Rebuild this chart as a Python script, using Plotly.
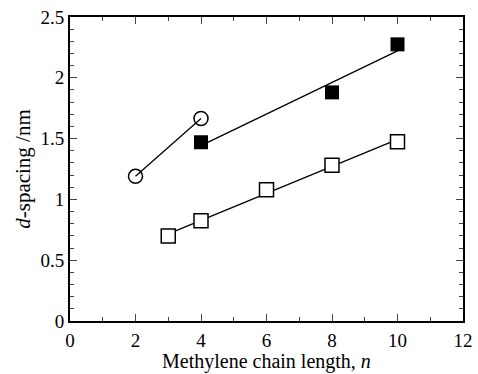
import numpy as np
import plotly.graph_objects as go

# Data
circ_x = [2, 4]
circ_y = [1.19, 1.665]

fsq_x = [4, 8, 10]
fsq_y = [1.47, 1.88, 2.275]

osq_x = [3, 4, 6, 8, 10]
osq_y = [0.70, 0.825, 1.08, 1.28, 1.475]

x_ticks = [0, 2, 4, 6, 8, 10, 12]
y_ticks = [0, 0.5, 1, 1.5, 2, 2.5]
y_labels = ["0", "0.5", "1", "1.5", "2", "2.5"]

fig = go.Figure()

# connecting / fit lines
fig.add_trace(go.Scatter(x=circ_x, y=circ_y, mode="lines",
                         line=dict(color="black", width=1.3), showlegend=False))
for xs, ys in [(fsq_x, fsq_y), (osq_x, osq_y)]:
    p = np.polyfit(xs, ys, 1)
    xe = [min(xs), max(xs)]
    fig.add_trace(go.Scatter(x=xe, y=list(np.polyval(p, xe)), mode="lines",
                             line=dict(color="black", width=1.3), showlegend=False))

fig.add_trace(go.Scatter(x=circ_x, y=circ_y, mode="markers",
                         marker=dict(symbol="circle-open", size=14, color="black",
                                     line=dict(width=1.5)), showlegend=False))
fig.add_trace(go.Scatter(x=fsq_x, y=fsq_y, mode="markers",
                         marker=dict(symbol="square", size=14, color="black",
                                     line=dict(width=0)), showlegend=False))
fig.add_trace(go.Scatter(x=osq_x, y=osq_y, mode="markers",
                         marker=dict(symbol="square", size=14, color="white",
                                     line=dict(width=1.5, color="black")), showlegend=False))

tick_font = dict(family="Liberation Serif, serif", size=19, color="black")
title_font = dict(family="Liberation Serif, serif", size=20, color="black")

fig.update_layout(
    width=478, height=374,
    margin=dict(l=70, r=15, t=17, b=53),
    plot_bgcolor="white", paper_bgcolor="white",
    font=tick_font,
    xaxis=dict(range=[0, 12], tickvals=x_ticks, ticks="inside", ticklen=7, tickwidth=1.3,
               tickfont=tick_font, ticklabelstandoff=1, automargin=False,
               showline=True, linewidth=2, linecolor="black", mirror="ticks",
               showgrid=False, zeroline=False,
               minor=dict(dtick=1, ticks="inside", ticklen=4, tickwidth=1.3, showgrid=False)),
    yaxis=dict(range=[0, 2.5], tickvals=y_ticks, ticktext=y_labels, automargin=False,
               ticks="inside", ticklen=7, tickwidth=1.3, tickfont=tick_font,
               showline=True, linewidth=2, linecolor="black", mirror="ticks",
               showgrid=False, zeroline=False,
               minor=dict(dtick=0.1, ticks="inside", ticklen=4, tickwidth=1.3, showgrid=False),
               title=dict(text="<i>d</i>-spacing /nm", font=dict(title_font, size=21), standoff=4)),
    annotations=[dict(text="Methylene chain length, <i>n</i>", font=title_font,
                      xref="paper", yref="paper", x=0.5, y=0, xanchor="center",
                      yanchor="top", yshift=-27, showarrow=False)],
)

fig.write_html("out.html", config={"displayModeBar": False},
               post_script="document.body.style.margin='0';")
